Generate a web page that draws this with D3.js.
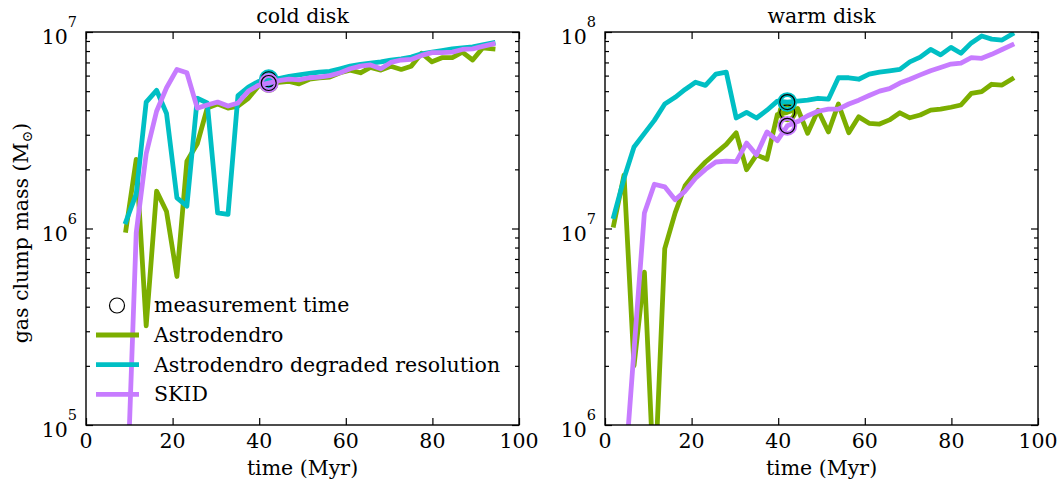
<!DOCTYPE html>
<html><head><meta charset="utf-8">
<script src="https://cdn.jsdelivr.net/npm/d3@7"></script>
<style>
body{margin:0;background:#fff}
text{font-family:"DejaVu Serif",serif;fill:#000}
</style>
</head><body>
<svg id="c" width="1062" height="483"></svg>
<script>
// ---- data ----
const coldTime = [9.2, 11.6, 13.9, 16.3, 18.6, 21.0, 23.3, 25.7, 28.0, 30.4, 32.8, 35.1, 37.5, 39.8, 42.2, 44.5, 46.9, 49.2, 51.6, 53.9, 56.3, 58.7, 61.0, 63.4, 65.7, 68.1, 70.4, 72.8, 75.1, 77.5, 79.9, 82.2, 84.6, 86.9, 89.3, 91.6, 94.0];
const coldAstro = [9.8e5, 2.25e6, 3.2e5, 1.55e6, 1.22e6, 5.7e5, 2.2e6, 2.7e6, 4.1e6, 4.3e6, 4.1e6, 4.2e6, 4.6e6, 5.3e6, 5.5e6, 5.55e6, 5.6e6, 5.45e6, 5.75e6, 5.85e6, 5.9e6, 6.2e6, 6.4e6, 6.2e6, 6.6e6, 6.4e6, 6.7e6, 6.45e6, 6.7e6, 7.8e6, 7.05e6, 7.4e6, 7.4e6, 7.9e6, 7.2e6, 8.3e6, 8.2e6];
const coldDegraded = [1.08e6, 1.5e6, 4.4e6, 5.05e6, 3.85e6, 1.43e6, 1.3e6, 4.6e6, 4.35e6, 1.2e6, 1.18e6, 4.75e6, 5.25e6, 5.6e6, 5.75e6, 5.8e6, 5.95e6, 6.05e6, 6.15e6, 6.25e6, 6.3e6, 6.5e6, 6.7e6, 6.85e6, 6.95e6, 7.05e6, 7.2e6, 7.3e6, 7.45e6, 7.75e6, 7.9e6, 8.05e6, 8.2e6, 8.3e6, 8.4e6, 8.6e6, 8.8e6];
const coldSkid = [3e4, 9.5e5, 2.4e6, 3.95e6, 5.2e6, 6.45e6, 6.2e6, 4.1e6, 4.25e6, 4.4e6, 4.2e6, 4.35e6, 5.0e6, 5.35e6, 5.5e6, 5.65e6, 5.75e6, 5.7e6, 5.85e6, 5.9e6, 6.0e6, 6.2e6, 6.5e6, 6.7e6, 6.8e6, 6.5e6, 7.0e6, 7.2e6, 7.25e6, 7.6e6, 7.85e6, 7.85e6, 7.9e6, 8.15e6, 8.2e6, 8.45e6, 8.7e6];

const warmTime = [2.0, 4.4, 6.7, 9.1, 11.4, 13.8, 16.2, 18.5, 20.9, 23.2, 25.6, 28.0, 30.3, 32.7, 35.0, 37.4, 39.8, 42.1, 44.5, 46.8, 49.2, 51.6, 53.9, 56.3, 58.6, 61.0, 63.4, 65.7, 68.1, 70.4, 72.8, 75.2, 77.5, 79.9, 82.2, 84.6, 87.0, 89.3, 91.7, 94.0];
const warmAstro = [1.04e7, 1.87e7, 2.0e6, 6.0e6, 4.5e5, 7.9e6, 1.2e7, 1.65e7, 1.93e7, 2.18e7, 2.42e7, 2.68e7, 3.07e7, 1.99e7, 2.37e7, 2.25e7, 3.8e7, 3.9e7, 4.08e7, 3.05e7, 4.0e7, 3.1e7, 4.3e7, 3.07e7, 3.7e7, 3.43e7, 3.4e7, 3.57e7, 3.88e7, 3.66e7, 3.78e7, 4.0e7, 4.05e7, 4.14e7, 4.25e7, 4.87e7, 4.97e7, 5.42e7, 5.37e7, 5.77e7];
const warmDegraded = [1.15e7, 1.8e7, 2.6e7, 3.05e7, 3.55e7, 4.3e7, 4.65e7, 5.1e7, 5.55e7, 5.35e7, 6.1e7, 6.25e7, 3.65e7, 3.9e7, 3.65e7, 4.0e7, 4.45e7, 4.4e7, 4.45e7, 4.5e7, 4.6e7, 4.55e7, 5.85e7, 5.85e7, 5.75e7, 6.1e7, 6.25e7, 6.35e7, 6.45e7, 7.05e7, 7.45e7, 8.15e7, 7.65e7, 8.35e7, 7.8e7, 8.8e7, 9.55e7, 9.2e7, 9.1e7, 9.75e7];
const warmSkid = [null, 5.0e5, 2.4e6, 1.2e7, 1.68e7, 1.63e7, 1.4e7, 1.55e7, 1.8e7, 2.0e7, 2.18e7, 2.2e7, 2.19e7, 2.72e7, 2.37e7, 3.1e7, 2.8e7, 3.33e7, 3.5e7, 3.75e7, 3.95e7, 4.05e7, 4.05e7, 4.3e7, 4.5e7, 4.75e7, 5.0e7, 5.15e7, 5.5e7, 5.75e7, 6.05e7, 6.35e7, 6.6e7, 6.87e7, 6.95e7, 7.4e7, 7.35e7, 7.7e7, 8.15e7, 8.6e7];

const measureTime = [42.2, 42.1];
const xTicks = [0, 20, 40, 60, 80, 100];
const panelTitles = ["cold disk", "warm disk"];
const yDecades = [[5, 6, 7], [6, 7, 8]];
const seriesNames = ["Astrodendro", "Astrodendro degraded resolution", "SKID"];
const seriesColors = ["#7CAE00", "#00BFC4", "#C77CFF"];
const legendMarkerLabel = "measurement time";

// ---- drawing ----
const svg = d3.select("#c");
const plotTop = 32, plotBottom = 425;
const panelsX = [[86, 519], [605, 1038]];
const panels = [
  {time: coldTime, series: [coldAstro, coldDegraded, coldSkid]},
  {time: warmTime, series: [warmAstro, warmDegraded, warmSkid]}
];
const FS = 20.5;

panels.forEach((p, pi) => {
  const [x0, x1] = panelsX[pi];
  const dec = yDecades[pi];
  const x = d3.scaleLinear().domain([0, 100]).range([x0, x1]);
  const y = d3.scaleLog().domain([Math.pow(10, dec[0]), Math.pow(10, dec[2])]).range([plotBottom, plotTop]);
  const g = svg.append("g");
  const clipId = "clip" + pi;
  svg.append("defs").append("clipPath").attr("id", clipId)
    .append("rect").attr("x", x0).attr("y", plotTop).attr("width", x1 - x0).attr("height", plotBottom - plotTop);

  const plot = g.append("g").attr("clip-path", `url(#${clipId})`);
  const line = d3.line().defined(d => d[1] != null).x(d => x(d[0])).y(d => y(d[1]));
  const mt = measureTime[pi];
  p.series.forEach((vals, si) => {
    const pts = p.time.map((t, i) => [t, vals[i]]);
    plot.append("path").attr("d", line(pts)).attr("fill", "none")
      .attr("stroke", seriesColors[si]).attr("stroke-width", 4.8)
      .attr("stroke-linejoin", "round").attr("stroke-linecap", "square");
    const idx = p.time.indexOf(mt);
    const v = vals[idx];
    plot.append("circle").attr("cx", x(mt)).attr("cy", y(v)).attr("r", 7.5)
      .attr("fill", "none").attr("stroke", seriesColors[si]).attr("stroke-width", 4.8);
    plot.append("circle").attr("cx", x(mt)).attr("cy", y(v)).attr("r", 7.5)
      .attr("fill", "none").attr("stroke", "#000").attr("stroke-width", 1.2);
  });

  // axes ticks
  const majors = dec.map(d => Math.pow(10, d));
  const minors = [];
  for (let d = dec[0]; d < dec[2]; d++) for (let m = 2; m <= 9; m++) minors.push(m * Math.pow(10, d));
  const tickStyle = sel => { sel.select(".domain").remove(); sel.selectAll("line").attr("stroke", "#000").attr("stroke-width", 1.2); sel.selectAll("text").remove(); };
  g.append("g").attr("transform", `translate(0,${plotBottom})`).call(d3.axisBottom(x).tickValues(xTicks).tickSize(-7)).call(tickStyle);
  g.append("g").attr("transform", `translate(0,${plotTop})`).call(d3.axisTop(x).tickValues(xTicks).tickSize(-7)).call(tickStyle);
  g.append("g").attr("transform", `translate(${x0},0)`).call(d3.axisLeft(y).tickValues(majors).tickSize(-7)).call(tickStyle);
  g.append("g").attr("transform", `translate(${x0},0)`).call(d3.axisLeft(y).tickValues(minors).tickSize(-4)).call(tickStyle);
  g.append("g").attr("transform", `translate(${x1},0)`).call(d3.axisRight(y).tickValues(majors).tickSize(-7)).call(tickStyle);
  g.append("g").attr("transform", `translate(${x1},0)`).call(d3.axisRight(y).tickValues(minors).tickSize(-4)).call(tickStyle);

  // frame
  g.append("rect").attr("x", x0).attr("y", plotTop).attr("width", x1 - x0).attr("height", plotBottom - plotTop)
    .attr("fill", "none").attr("stroke", "#000").attr("stroke-width", 1.4);

  // x tick labels
  xTicks.forEach(t => {
    g.append("text").attr("x", x(t)).attr("y", plotBottom + 23).attr("text-anchor", "middle")
      .attr("font-size", FS).text(t);
  });
  // y tick labels with superscripts
  dec.forEach(d => {
    const tx = g.append("text").attr("x", x0 - 9).attr("y", y(Math.pow(10, d)) + 12)
      .attr("text-anchor", "end").attr("font-size", FS);
    tx.append("tspan").text("10");
    tx.append("tspan").attr("font-size", 14.5).attr("dy", -17).text(d);
  });
  // title
  g.append("text").attr("x", (x0 + x1) / 2).attr("y", 23).attr("text-anchor", "middle")
    .attr("font-size", FS).text(panelTitles[pi]);
  // x label
  g.append("text").attr("x", (x0 + x1) / 2).attr("y", 475).attr("text-anchor", "middle")
    .attr("font-size", FS).text("time (Myr)");
});

// y label
const yl = svg.append("text").attr("transform", "translate(28,233) rotate(-90)")
  .attr("text-anchor", "middle").attr("font-size", FS);
yl.append("tspan").text("gas clump mass (M");
yl.append("tspan").attr("font-size", 14).attr("dy", 4).text("\u2299");
yl.append("tspan").attr("dy", -4).text(")");

// legend
const lg = svg.append("g");
lg.append("circle").attr("cx", 117).attr("cy", 305.5).attr("r", 7.5)
  .attr("fill", "#fff").attr("stroke", "#000").attr("stroke-width", 1.2);
lg.append("text").attr("x", 154).attr("y", 312).attr("font-size", FS).text(legendMarkerLabel);
seriesNames.forEach((n, i) => {
  const yy = 335 + i * 29.7;
  lg.append("line").attr("x1", 96).attr("x2", 139).attr("y1", yy).attr("y2", yy)
    .attr("stroke", seriesColors[i]).attr("stroke-width", 4.8);
  lg.append("text").attr("x", 154).attr("y", yy + 7).attr("font-size", FS).text(n);
});
</script>
</body></html>
